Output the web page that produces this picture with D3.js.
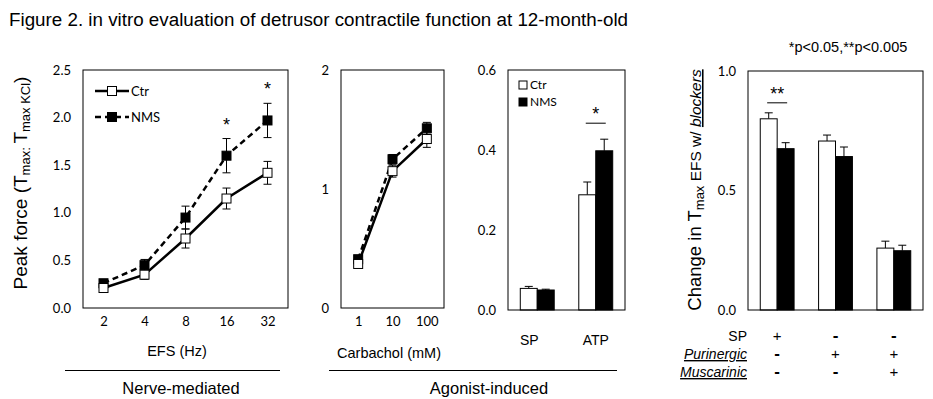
<!DOCTYPE html>
<html><head><meta charset="utf-8">
<script src="https://cdn.jsdelivr.net/npm/d3@7/dist/d3.min.js"></script>
<style>body{margin:0;background:#fff}svg{display:block}</style></head>
<body><svg id="c" width="933" height="399"></svg>
<script>
// ---- data ----
const efsCats=["2","4","8","16","32"];
const efsCtr=[0.21,0.35,0.73,1.15,1.42];
const efsCtrErr=[0.02,0.05,0.10,0.11,0.12];
const efsNms=[0.26,0.45,0.95,1.60,1.97];
const efsNmsErr=[0.02,0.06,0.12,0.18,0.18];
const efsTicks=[0,0.5,1,1.5,2,2.5];
const efsSig=["","","","*","*"];

const cchCats=["1","10","100"];
const cchCtr=[0.37,1.15,1.42];
const cchCtrErr=[0.02,0.05,0.07];
const cchNms=[0.41,1.25,1.51];
const cchNmsErr=[0.02,0.04,0.05];
const cchTicks=[0,1,2];

const agoCats=["SP","ATP"];
const agoCtr=[0.054,0.288];
const agoCtrErr=[0.005,0.032];
const agoNms=[0.05,0.398];
const agoNmsErr=[0.002,0.029];
const agoTicks=[0,0.2,0.4,0.6];
const agoSig=["","*"];

const blkCats=["g1","g2","g3"];
const blkCtr=[0.80,0.707,0.259];
const blkCtrErr=[0.025,0.025,0.029];
const blkNms=[0.675,0.642,0.248];
const blkNmsErr=[0.025,0.04,0.023];
const blkTicks=[0,0.5,1];
const blkSig=["**","",""];
const blkRows=["SP","Purinergic","Muscarinic"];
const blkSigns=[["+","-","-"],["-","+","+"],["-","-","+"]];

const seriesNames=["Ctr","NMS"];

// ---- drawing ----
const svg=d3.select("#c");
const ARIAL="'Liberation Sans', Arial, sans-serif";
const TICKF="Lato, 'Open Sans', sans-serif";

svg.append("text").attr("x",9).attr("y",26).attr("font-family",ARIAL).attr("font-size",18.8)
  .text("Figure 2. in vitro evaluation of detrusor contractile function at 12-month-old");

function yAxis(g,y,x0,fmt,ticks){
  const a=g.append("g").attr("transform",`translate(${x0},0)`)
    .call(d3.axisLeft(y).tickValues(ticks).tickSize(0).tickPadding(12).tickFormat(fmt));
  a.select(".domain").remove();
  a.selectAll("text").attr("font-family",TICKF).attr("font-size",13).attr("fill","#000");
}
function box(g,x0,x1,y0,y1){
  g.append("rect").attr("x",x0).attr("y",y0).attr("width",x1-x0).attr("height",y1-y0)
    .attr("fill","none").attr("stroke","#000").attr("stroke-width",1);
}

function linePanel(o){
  const g=svg.append("g");
  const x=d3.scalePoint().domain(o.cats).range([o.x0,o.x1]).padding(0.5);
  const y=d3.scaleLinear().domain([0,o.max]).range([o.y1,o.y0]);
  box(g,o.x0,o.x1,o.y0,o.y1);
  yAxis(g,y,o.x0,o.fmt,o.ticks);
  const xa=g.append("g").attr("transform",`translate(0,${o.y1})`).call(d3.axisBottom(x).tickSize(0).tickPadding(9));
  xa.select(".domain").remove();
  xa.selectAll("text").attr("font-family",TICKF).attr("font-size",13).attr("fill","#000");
  const series=[{v:o.nms,e:o.nmsErr,fill:"#000",dash:"6,4"},{v:o.ctr,e:o.ctrErr,fill:"#fff",dash:null}];
  series.forEach(s=>{
    s.v.forEach((v,i)=>{
      const e=s.e[i]; const cx=x(o.cats[i]);
      const t=y(v+e), b=y(v-e);
      g.append("line").attr("x1",cx).attr("x2",cx).attr("y1",t).attr("y2",b).attr("stroke","#000");
      g.append("line").attr("x1",cx-4).attr("x2",cx+4).attr("y1",t).attr("y2",t).attr("stroke","#000");
      g.append("line").attr("x1",cx-4).attr("x2",cx+4).attr("y1",b).attr("y2",b).attr("stroke","#000");
    });
  });
  const line=d3.line().x((d,i)=>x(o.cats[i])).y(d=>y(d));
  series.forEach(s=>{
    g.append("path").attr("d",line(s.v)).attr("fill","none").attr("stroke","#000").attr("stroke-width",2.5)
      .attr("stroke-dasharray",s.dash);
  });
  series.forEach(s=>{
    g.selectAll(null).data(s.v).enter().append("rect")
      .attr("x",(d,i)=>x(o.cats[i])-4.5).attr("y",d=>y(d)-4.5).attr("width",9).attr("height",9)
      .attr("fill",s.fill).attr("stroke","#000").attr("stroke-width",1);
  });
  if(o.sig){
    o.sig.forEach((s,i)=>{ if(!s) return;
      g.append("text").attr("x",x(o.cats[i])).attr("y",y(o.nms[i]+o.nmsErr[i])-8)
        .attr("text-anchor","middle").attr("font-family",ARIAL).attr("font-size",18).text(s);
    });
  }
  return {g,x,y};
}

function barPanel(o){
  const g=svg.append("g");
  const x=d3.scaleBand().domain(o.cats).range([o.x0,o.x1]);
  const bw=x.bandwidth();
  const xs=d3.scaleBand().domain(seriesNames).range([bw*0.21,bw*0.79]);
  const y=d3.scaleLinear().domain([0,o.max]).range([o.y1,o.y0]);
  const series=[{n:"Ctr",v:o.ctr,e:o.ctrErr,fill:"#fff"},{n:"NMS",v:o.nms,e:o.nmsErr,fill:"#000"}];
  series.forEach(s=>{
    s.v.forEach((v,i)=>{
      const bx=x(o.cats[i])+xs(s.n), w=xs.bandwidth();
      const cx=bx+w/2;
      g.append("line").attr("x1",cx).attr("x2",cx).attr("y1",y(v+s.e[i])).attr("y2",y(v)).attr("stroke","#000");
      g.append("line").attr("x1",cx-4).attr("x2",cx+4).attr("y1",y(v+s.e[i])).attr("y2",y(v+s.e[i])).attr("stroke","#000");
      g.append("rect").attr("x",bx).attr("y",y(v)).attr("width",w).attr("height",o.y1-y(v))
        .attr("fill",s.fill).attr("stroke","#000").attr("stroke-width",1);
    });
  });
  box(g,o.x0,o.x1,o.y0,o.y1);
  yAxis(g,y,o.x0,o.fmt,o.ticks);
  if(o.sig){
    o.sig.forEach((s,i)=>{ if(!s) return;
      const top=Math.max(o.ctr[i]+o.ctrErr[i],o.nms[i]+o.nmsErr[i]);
      const ly=y(top)-o.sigGap;
      const cx=x(o.cats[i])+bw/2;
      g.append("line").attr("x1",cx-10).attr("x2",cx+10).attr("y1",ly).attr("y2",ly).attr("stroke","#000");
      g.append("text").attr("x",cx).attr("y",ly-3).attr("text-anchor","middle")
        .attr("font-family",ARIAL).attr("font-size",18).text(s);
    });
  }
  return {g,x,y,bw};
}

// Panel 1
const p1=linePanel({cats:efsCats,ctr:efsCtr,ctrErr:efsCtrErr,nms:efsNms,nmsErr:efsNmsErr,ticks:efsTicks,
  max:2.5,fmt:d3.format(".1f"),x0:83,x1:288,y0:70,y1:308,sig:efsSig});
// legend panel 1
[{n:"Ctr",y:91,fill:"#fff",dash:null},{n:"NMS",y:117,fill:"#000",dash:"6,4"}].forEach(l=>{
  p1.g.append("line").attr("x1",95).attr("x2",129).attr("y1",l.y).attr("y2",l.y).attr("stroke","#000")
    .attr("stroke-width",2.5).attr("stroke-dasharray",l.dash);
  p1.g.append("rect").attr("x",107.5).attr("y",l.y-4.5).attr("width",9).attr("height",9).attr("fill",l.fill).attr("stroke","#000");
  p1.g.append("text").attr("x",131).attr("y",l.y+4.5).attr("font-family",TICKF).attr("font-size",13).text(l.n);
});
// y label panel 1
const yl1=svg.append("text").attr("transform","translate(27,183) rotate(-90)").attr("text-anchor","middle")
  .attr("font-family",ARIAL).attr("font-size",19);
yl1.append("tspan").text("Peak force (T");
yl1.append("tspan").attr("font-size",13).attr("dy",3).text("max: ");
yl1.append("tspan").attr("dy",-3).text("T");
yl1.append("tspan").attr("font-size",13).attr("dy",3).text("max KCl");
yl1.append("tspan").attr("dy",-3).text(")");

// Panel 2
linePanel({cats:cchCats,ctr:cchCtr,ctrErr:cchCtrErr,nms:cchNms,nmsErr:cchNmsErr,ticks:cchTicks,
  max:2,fmt:d3.format("d"),x0:341,x1:444,y0:70,y1:308});

// Panel 3
const p3=barPanel({cats:agoCats,ctr:agoCtr,ctrErr:agoCtrErr,nms:agoNms,nmsErr:agoNmsErr,ticks:agoTicks,
  max:0.6,fmt:d3.format(".1f"),x0:508,x1:625,y0:70,y1:310,sig:agoSig,sigGap:16});
[{n:"Ctr",y:85,fill:"#fff"},{n:"NMS",y:102,fill:"#000"}].forEach(l=>{
  p3.g.append("rect").attr("x",519).attr("y",l.y-4).attr("width",8).attr("height",8).attr("fill",l.fill).attr("stroke","#000");
  p3.g.append("text").attr("x",530).attr("y",l.y+4).attr("font-family",TICKF).attr("font-size",12).text(l.n);
});
agoCats.forEach(c=>{
  svg.append("text").attr("x",p3.x(c)+p3.bw/2-(c==="SP"?8:0)).attr("y",345).attr("text-anchor","middle")
    .attr("font-family",ARIAL).attr("font-size",14).text(c);
});

// Panel 4
const p4=barPanel({cats:blkCats,ctr:blkCtr,ctrErr:blkCtrErr,nms:blkNms,nmsErr:blkNmsErr,ticks:blkTicks,
  max:1,fmt:d3.format(".1f"),x0:748,x1:923,y0:71,y1:310,sig:blkSig,sigGap:10});
const yl4=svg.append("text").attr("transform","translate(701,190) rotate(-90)").attr("text-anchor","middle")
  .attr("font-family",ARIAL).attr("font-size",18.5);
yl4.append("tspan").text("Change in T");
yl4.append("tspan").attr("font-size",13).attr("dy",3).text("max");
yl4.append("tspan").attr("font-size",15.5).attr("dy",-3).text(" EFS w/ ");
yl4.append("tspan").attr("font-size",15.5).attr("font-style","italic").attr("text-decoration","underline").text("blockers");

svg.append("text").attr("x",848).attr("y",52).attr("text-anchor","middle").attr("font-family",ARIAL)
  .attr("font-size",14.5).text("*p<0.05,**p<0.005");

// treatment table
blkRows.forEach((r,ri)=>{
  const yy=341+ri*18;
  const t=svg.append("text").attr("x",747).attr("y",yy).attr("text-anchor","end").attr("font-family",ARIAL)
    .attr("font-size",14).text(r);
  if(ri>0) t.attr("font-style","italic").attr("text-decoration","underline");
  blkSigns[ri].forEach((s,ci)=>{
    svg.append("text").attr("x",p4.x(blkCats[ci])+p4.bw/2).attr("y",yy).attr("text-anchor","middle")
      .attr("font-family",ARIAL).attr("font-size",s==="-"?17:15).attr("font-weight",s==="-"?"bold":"normal").text(s);
  });
});

// group labels
svg.append("text").attr("x",177).attr("y",356).attr("text-anchor","middle").attr("font-family",ARIAL).attr("font-size",14.5).text("EFS (Hz)");
svg.append("text").attr("x",389).attr("y",358).attr("text-anchor","middle").attr("font-family",ARIAL).attr("font-size",14.5).text("Carbachol (mM)");
svg.append("line").attr("x1",65).attr("x2",280).attr("y1",370.5).attr("y2",370.5).attr("stroke","#000");
svg.append("line").attr("x1",329).attr("x2",617).attr("y1",370.5).attr("y2",370.5).attr("stroke","#000");
svg.append("text").attr("x",181).attr("y",394).attr("text-anchor","middle").attr("font-family",ARIAL).attr("font-size",16.5).text("Nerve-mediated");
svg.append("text").attr("x",489).attr("y",394).attr("text-anchor","middle").attr("font-family",ARIAL).attr("font-size",16.5).text("Agonist-induced");
</script></body></html>
